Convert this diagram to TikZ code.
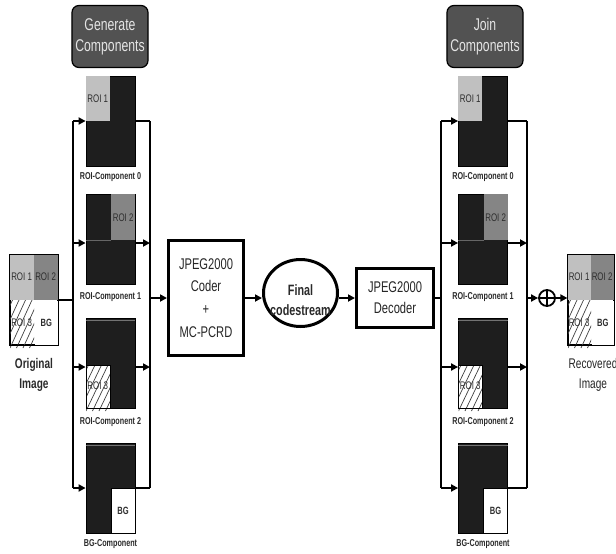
\documentclass[tikz,border=0pt]{standalone}
\usepackage{fontspec}
\setmainfont{Liberation Sans}
\newfontfamily\nf[FakeStretch=0.72]{Liberation Sans}
\usetikzlibrary{arrows.meta,shapes.geometric}
\definecolor{compblack}{HTML}{1E1E1E}
\definecolor{lightroi}{HTML}{C0C0C0}
\definecolor{midroi}{HTML}{858585}
\definecolor{cellgray}{HTML}{2E2E2E}
\definecolor{boxfill}{HTML}{525252}
\definecolor{boxtext}{HTML}{E4E4E4}
\definecolor{labgray}{HTML}{2A2A2A}
\newcommand\myhatch[4]{%
  \begin{scope}
    \clip (#1,#2) rectangle (#3,#4+3);
    \foreach \k in {-4,...,6} \draw[line width=0.7pt,black!75] (#1+\k*6.5,#4+3) -- (#1+\k*6.5+22,#2);
  \end{scope}}
\tikzset{
  conn/.style={line width=2.2pt,black},
  arr/.style={line width=2.2pt,black,-{Triangle[length=7pt,width=7pt]}},
  vline/.style={line width=1.8pt,black},
  comp/.style={draw=black,fill=compblack,line width=0.8pt,minimum width=49pt,minimum height=90pt,inner sep=0pt},
  cell/.style={minimum width=24pt,minimum height=45pt,inner sep=0pt,anchor=north west,font=\nf\fontsize{11}{11}\selectfont,text=cellgray},
  bgcell/.style={cell,font=\nf\bfseries\fontsize{10.5}{10.5}\selectfont},
  imgbox/.style={draw=black,line width=1.2pt,minimum width=48pt,minimum height=90pt,inner sep=0pt},
  lab/.style={font=\nf\bfseries\fontsize{10}{10}\selectfont,text=labgray},
  big/.style={font=\nf\fontsize{14}{20}\selectfont,align=center},
  hdr/.style={draw=black,line width=1.2pt,fill=boxfill,rounded corners=7pt,minimum width=75pt,minimum height=62pt,text=boxtext,font=\nf\fontsize{17}{21}\selectfont,align=center},
  proc/.style={draw=black,line width=3pt,fill=white,inner sep=0pt,align=center,font=\nf\fontsize{15.5}{22.7}\selectfont,text=black!85},
}
\begin{document}
\begin{tikzpicture}[x=1pt,y=-1pt]
\useasboundingbox (0,0) rectangle (616,554);

% ---------------- headers
\node[hdr] (gen) at (110,36.5) {Generate\\Components};
\node[hdr] (join) at (485,36.5) {Join\\Components};

% ---------------- original image
\node[imgbox] (orig) at (34,300) {};
\node[cell,fill=lightroi] at (orig.north west) {ROI 1};
\node[cell,fill=midroi] at ([xshift=24pt]orig.north west) {ROI 2};
\myhatch{10}{300}{34}{345}
\node[cell,anchor=south west,fill=none] at (orig.south west) {ROI 3};
\node[bgcell,anchor=south east,fill=white,minimum width=23pt,minimum height=44pt] at ([xshift=-0.6pt,yshift=0.6pt]orig.south east) {BG};
\draw[black,line width=1.2pt] (orig.north west) rectangle (orig.south east);
\node[big,font=\nf\bfseries\fontsize{14}{20}\selectfont,text=labgray] (origlab) at (34,375) {Original\\Image};

% ---------------- left components
\node[comp] (c0) at (110.5,121) {};
\node[cell,fill=lightroi] at (c0.north west) {ROI 1};
\node[lab] at (110.5,177) {ROI-Component 0};

\node[comp] (c1) at (110.5,239.5) {};
\node[cell,anchor=north east,fill=midroi,minimum height=46pt] at (c1.north east) {ROI 2};
\draw[black!60,line width=0.6pt] ([yshift=-46pt]c1.north west) -- ([yshift=-46pt,xshift=-24pt]c1.north east);
\node[lab] at (110.5,297) {ROI-Component 1};

\node[comp] (c2) at (110.5,363) {};
\draw[black!55,line width=0.8pt] ([yshift=-2.5pt]c2.north west) -- ([yshift=-2.5pt]c2.north east);
\fill[white] (86,365) rectangle (110,408);
\myhatch{86}{365}{110}{408}
\draw[black,line width=0.6pt] (86,365) rectangle (110,408);
\node[cell,anchor=south west] at (c2.south west) {ROI 3};
\node[lab] at (110.5,422) {ROI-Component 2};

\node[comp] (cb) at (110.5,488) {};
\draw[black!55,line width=0.8pt] ([yshift=-2.5pt]cb.north west) -- ([yshift=-2.5pt]cb.north east);
\node[bgcell,anchor=south east,fill=white,draw=black,line width=0.6pt] at (cb.south east) {BG};
\node[lab] at (110.5,544) {BG-Component};

% left network
\coordinate (la0) at (73,121);
\coordinate (la1) at (73,243);
\coordinate (la2) at (73,367);
\coordinate (la3) at (73,488);
\coordinate (lin) at (73,300);
\coordinate (ra0) at (150,121);
\coordinate (ra1) at (150,243);
\coordinate (ra2) at (150,367);
\coordinate (ra3) at (150,488);
\coordinate (rout) at (150,298);
\draw[conn] (orig.east) -- (lin);
\draw[vline] (la0) -- (la3);
\draw[arr] (la0) -- (la0 -| c0.west);
\draw[arr] (la1) -- (la1 -| c1.west);
\draw[arr] (la2) -- (la2 -| c2.west);
\draw[arr] (la3) -- (la3 -| cb.west);
\draw[vline] (ra0) -- (ra3);
\draw[conn] (ra0 -| c0.east) -- (ra0);
\draw[arr] (ra1 -| c1.east) -- (ra1);
\draw[arr] (ra2 -| c2.east) -- (ra2);
\draw[conn] (ra3 -| cb.east) -- (ra3);

% ---------------- coder / codestream / decoder
\node[proc,minimum width=75pt,minimum height=115pt] (coder) at (206,298) {JPEG2000\\Coder\\+\\MC-PCRD};
\node[draw=black,line width=3pt,ellipse,minimum width=74pt,minimum height=67pt,inner sep=0pt] (fc) at (300.5,293) {};
\node[font=\nf\bfseries\fontsize{15}{20}\selectfont,align=center,text=labgray] (fctext) at (300.5,300) {Final\\codestream};
\node[proc,minimum width=77pt,minimum height=59pt,font=\nf\fontsize{15.5}{21}\selectfont] (dec) at (395,298) {JPEG2000\\Decoder};
\draw[arr] (rout) -- (rout -| coder.west);
\draw[arr] (rout -| coder.east) -- (rout -| fc.west);
\draw[arr] (rout -| fc.east) -- (rout -| dec.west);

% ---------------- right components
\node[comp] (d0) at (483,121) {};
\node[cell,fill=lightroi] at (d0.north west) {ROI 1};
\node[lab] at (483,177) {ROI-Component 0};

\node[comp] (d1) at (483,239.5) {};
\node[cell,anchor=north east,fill=midroi,minimum height=46pt] at (d1.north east) {ROI 2};
\draw[black!60,line width=0.6pt] ([yshift=-46pt]d1.north west) -- ([yshift=-46pt,xshift=-24pt]d1.north east);
\node[lab] at (483,297) {ROI-Component 1};

\node[comp] (d2) at (483,363) {};
\draw[black!55,line width=0.8pt] ([yshift=-2.5pt]d2.north west) -- ([yshift=-2.5pt]d2.north east);
\fill[white] (458.5,365) rectangle (482.5,408);
\myhatch{458.5}{365}{482.5}{408}
\draw[black,line width=0.6pt] (458.5,365) rectangle (482.5,408);
\node[cell,anchor=south west] at (d2.south west) {ROI 3};
\node[lab] at (483,422) {ROI-Component 2};

\node[comp] (db) at (483,488) {};
\draw[black!55,line width=0.8pt] ([yshift=-2.5pt]db.north west) -- ([yshift=-2.5pt]db.north east);
\node[bgcell,anchor=south east,fill=white,draw=black,line width=0.6pt] at (db.south east) {BG};
\node[lab] at (483,544) {BG-Component};

% right network
\coordinate (jl0) at (441,121);
\coordinate (jl1) at (441,243);
\coordinate (jl2) at (441,367);
\coordinate (jl3) at (441,488);
\coordinate (jin) at (441,298);
\coordinate (jr0) at (527,121);
\coordinate (jr1) at (527,243);
\coordinate (jr2) at (527,367);
\coordinate (jr3) at (527,488);
\coordinate (jout) at (527,298);
\draw[conn] (dec.east) -- (jin);
\draw[vline] (jl0) -- (jl3);
\draw[arr] (jl0) -- (jl0 -| d0.west);
\draw[arr] (jl1) -- (jl1 -| d1.west);
\draw[arr] (jl2) -- (jl2 -| d2.west);
\draw[arr] (jl3) -- (jl3 -| db.west);
\draw[vline] (jr0) -- (jr3);
\draw[conn] (jr0 -| d0.east) -- (jr0);
\draw[arr] (jr1 -| d1.east) -- (jr1);
\draw[arr] (jr2 -| d2.east) -- (jr2);
\draw[conn] (jr3 -| db.east) -- (jr3);

% ---------------- sum and recovered image
\node[draw=black,circle,line width=1.8pt,minimum size=16pt,inner sep=0pt] (sum) at (547,298) {};
\draw[line width=1.5pt] (sum.north) -- (sum.south) (sum.west) -- (sum.east);
\draw[arr] (jout) -- (sum.west);

\node[imgbox,minimum width=46pt] (rec) at (591,300) {};
\node[cell,fill=lightroi,minimum width=23pt] at (rec.north west) {ROI 1};
\node[cell,fill=midroi,minimum width=23pt] at ([xshift=23pt]rec.north west) {ROI 2};
\myhatch{568}{300}{591}{345}
\node[cell,anchor=south west,minimum width=23pt] at (rec.south west) {ROI 3};
\node[bgcell,anchor=south east,fill=white,minimum width=22pt,minimum height=44pt] at ([xshift=-0.6pt,yshift=0.6pt]rec.south east) {BG};
\draw[black,line width=1.2pt] (rec.north west) rectangle (rec.south east);
\draw[arr] (sum.east) -- (sum.east -| rec.west);
\node[big,text=black!85] (reclab) at (593,375) {Recovered\\Image};
\end{tikzpicture}
\end{document}
